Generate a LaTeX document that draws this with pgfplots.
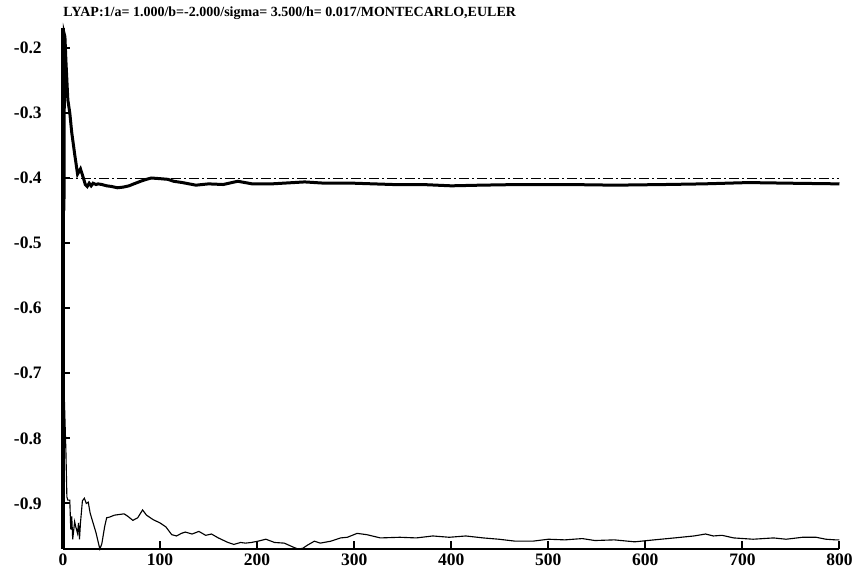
\documentclass[border=0pt]{standalone}
\usepackage{fontspec}
\setmainfont{Liberation Serif}
\usepackage{pgfplots}
\pgfplotsset{compat=1.18}

\begin{document}
\begin{tikzpicture}
\useasboundingbox (-25.2pt,-7.2pt) rectangle (315.6pt,219.6pt);
\begin{axis}[
    scale only axis,
    width=310.6pt, height=208.4pt,
    xmin=0, xmax=800,
    ymin=-0.970, ymax=-0.1695,
    axis x line*=bottom,
    axis y line*=left,
    x axis line style={line width=0.9pt},
    y axis line style={line width=1.3pt},
    tick align=inside,
    major tick length=3pt,
    tick style={black, line width=0.8pt},
    xtick={0,100,...,800},
    xticklabels={0,100,200,300,400,500,600,700,800},
    ytick={-0.9,-0.8,-0.7,-0.6,-0.5,-0.4,-0.3,-0.2},
    yticklabels={-0.9,-0.8,-0.7,-0.6,-0.5,-0.4,-0.3,-0.2},
    ticklabel style={font=\bfseries\fontsize{7}{8}\selectfont},
    yticklabel style={xshift=-5pt},
    xticklabel style={inner sep=0pt, yshift=-1.6pt},
    clip=false,
]
% reference level
\addplot[black, line width=0.4pt,
    dash pattern=on 4pt off 1.2pt on 0.8pt off 1.2pt]
    coordinates {(0,-0.4) (800,-0.4)};

% Lyapunov estimate, upper (thick)
\addplot[black, line width=1.2pt] coordinates {
(1,-0.45) (1.5,-0.18) (2,-0.183) (3,-0.22) (5,-0.28) (7,-0.30) (9,-0.33)
(12,-0.363) (15,-0.394) (18,-0.386) (21,-0.40) (23,-0.41) (25,-0.413)
(27,-0.408) (29,-0.412) (31,-0.408) (34,-0.41) (36,-0.409) (40,-0.41)
(45,-0.412) (50,-0.413) (56,-0.415) (62,-0.414) (68,-0.412) (73,-0.409)
(80,-0.405) (86,-0.402) (91,-0.400) (100,-0.401) (108,-0.402) (114,-0.405)
(123,-0.407) (137,-0.411) (150,-0.409) (165,-0.410) (180,-0.405) (195,-0.409)
(215,-0.409) (249,-0.406) (270,-0.408) (300,-0.408) (340,-0.410) (370,-0.410)
(400,-0.412) (430,-0.411) (470,-0.410) (520,-0.410) (569,-0.411) (620,-0.410)
(660,-0.409) (706,-0.407) (750,-0.408) (800,-0.409)
};

% Lyapunov estimate, lower (thin)
\addplot[black, line width=0.45pt] coordinates {
(1,-0.72) (3,-0.82) (4,-0.89) (5,-0.895) (7,-0.895) (8,-0.94) (9,-0.92)
(10,-0.955) (12,-0.928) (13,-0.935) (15,-0.946) (16,-0.93) (17,-0.955)
(18,-0.93) (20,-0.896) (22,-0.892) (24,-0.90) (26,-0.898) (28,-0.915)
(31,-0.93) (34,-0.945) (37,-0.964) (38,-0.97) (40,-0.962) (43,-0.935)
(45,-0.922) (48,-0.921) (53,-0.918) (58,-0.917) (63,-0.916) (67,-0.92)
(72,-0.926) (77,-0.922) (82,-0.91) (86,-0.918) (93,-0.925) (100,-0.93)
(106,-0.936) (112,-0.948) (117,-0.95) (122,-0.946) (126,-0.944) (133,-0.947)
(140,-0.943) (147,-0.949) (153,-0.947) (160,-0.953) (170,-0.96) (176,-0.963)
(183,-0.96) (188,-0.961) (194,-0.96) (201,-0.958) (209,-0.955) (218,-0.96)
(228,-0.961) (237,-0.967) (242,-0.97) (247,-0.969) (252,-0.964) (259,-0.958)
(265,-0.961) (276,-0.958) (286,-0.953) (293,-0.952) (303,-0.946) (313,-0.948)
(327,-0.953) (347,-0.952) (364,-0.953) (381,-0.95) (398,-0.952) (415,-0.95)
(433,-0.953) (449,-0.955) (466,-0.958) (484,-0.958) (500,-0.955) (517,-0.956)
(535,-0.954) (548,-0.957) (568,-0.956) (589,-0.959) (609,-0.956) (630,-0.953)
(650,-0.95) (662,-0.947) (670,-0.95) (679,-0.949) (691,-0.953) (711,-0.955)
(732,-0.953) (745,-0.955) (762,-0.952) (776,-0.952) (786,-0.955) (796,-0.956)
(800,-0.956)
};

\node[anchor=base west, inner sep=0pt,
      font=\bfseries\fontsize{5.6}{7}\selectfont]
    at (rel axis cs:0,1) [yshift=4.6pt]
    {LYAP:1/a= 1.000/b=-2.000/sigma= 3.500/h= 0.017/MONTECARLO,EULER};
\end{axis}
\end{tikzpicture}
\end{document}
